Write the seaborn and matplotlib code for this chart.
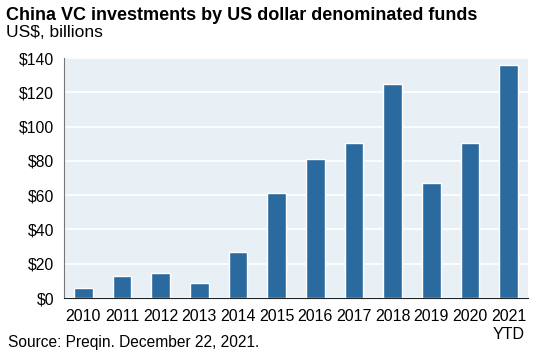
import numpy as np
import pandas as pd
import seaborn as sns
import matplotlib.pyplot as plt
from matplotlib.ticker import FixedLocator

years = ['2010', '2011', '2012', '2013', '2014', '2015', '2016', '2017',
         '2018', '2019', '2020', '2021\nYTD']
invest = [6, 13, 14.5, 8.5, 27, 61.5, 81, 90.5, 125, 67, 90.5, 136]
y_ticks = [0, 20, 40, 60, 80, 100, 120, 140]

df = pd.DataFrame({'year': years, 'invest': invest})

sns.set_style('white')
plt.rcParams['font.family'] = ['Liberation Sans', 'DejaVu Sans']
plt.rcParams['text.color'] = 'black'
plt.rcParams['xtick.color'] = 'black'
plt.rcParams['ytick.color'] = 'black'

fig = plt.figure(figsize=(5.43, 3.57), dpi=100)
ax = fig.add_axes([64 / 543, 1 - 298 / 357, 464 / 543, 240 / 357])

sns.barplot(data=df, x='year', y='invest', color='#2B6A9E', width=0.48,
            saturation=1, ax=ax)

ax.set_facecolor('#E8F0F5')
ax.set_ylim(0, 140)
ax.set_xlim(-0.5, len(years) - 0.5)
ax.set_yticks(y_ticks)
ax.set_yticklabels(['$' + str(t) for t in y_ticks], fontsize=11.3)
ax.yaxis.grid(True, color='white', linewidth=1.2)
ax.set_axisbelow(True)
ax.set_xlabel('')
ax.set_ylabel('')

# ticks between the bars on the x axis
ax.tick_params(axis='x', which='major', length=0, labelsize=11.5, pad=8)
ax.xaxis.set_minor_locator(FixedLocator(np.arange(-0.5, len(years), 1)))
ax.tick_params(axis='x', which='minor', length=4, width=0.8, color='#333333')
ax.tick_params(axis='y', length=4, width=0.8, color='#777777', pad=3)

for s in ['top', 'right']:
    ax.spines[s].set_visible(False)
ax.spines['left'].set_color('#777777')
ax.spines['bottom'].set_color('#222222')

fig.text(6 / 543, 1 - 7 / 357, 'China VC investments by US dollar denominated funds',
         fontsize=13, fontweight='bold', va='top', ha='left')
fig.text(6 / 543, 1 - 25 / 357, 'US$, billions', fontsize=12.5, va='top', ha='left')
fig.text(8 / 543, 1 - 335 / 357, 'Source: Preqin. December 22, 2021.',
         fontsize=11.2, va='top', ha='left')

fig.savefig('out.png', dpi=100)
